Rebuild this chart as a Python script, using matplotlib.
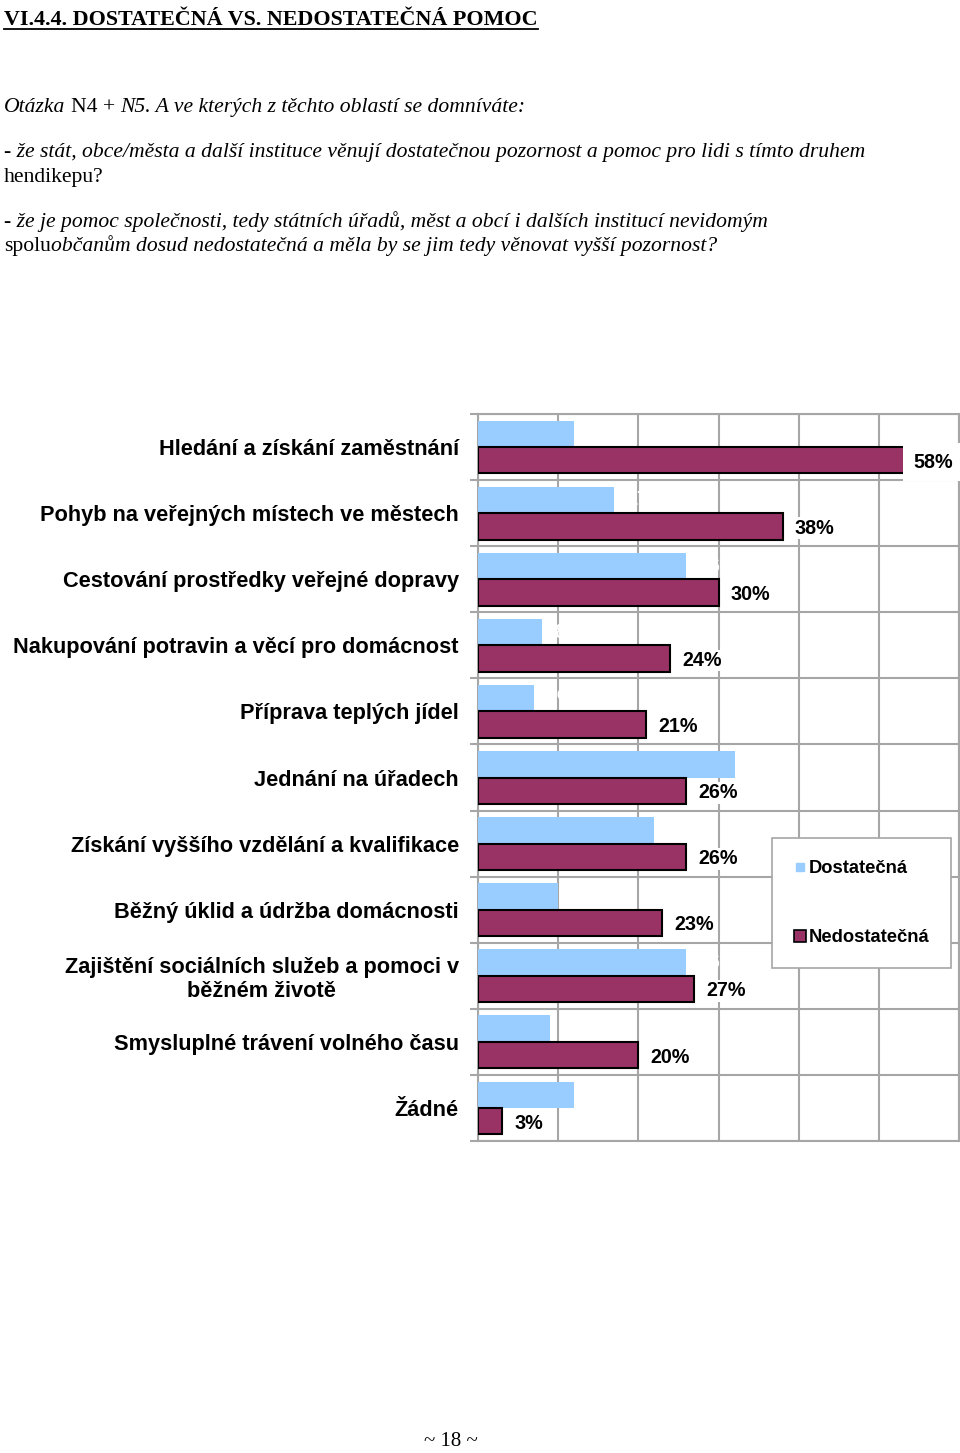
import matplotlib
matplotlib.use('Agg')
import matplotlib.pyplot as plt
from matplotlib.lines import Line2D
import numpy as np

# data
categories = [
    'Hledání a získání zaměstnání',
    'Pohyb na veřejných místech ve městech',
    'Cestování prostředky veřejné dopravy',
    'Nakupování potravin a věcí pro domácnost',
    'Příprava teplých jídel',
    'Jednání na úřadech',
    'Získání vyššího vzdělání a kvalifikace',
    'Běžný úklid a údržba domácnosti',
    'Zajištění sociálních služeb a pomoci v\nběžném životě',
    'Smysluplné trávení volného času',
    'Žádné',
]
dostatecna = [12, 17, 26, 8, 7, 32, 22, 10, 26, 9, 12]
nedostatecna = [58, 38, 30, 24, 21, 26, 26, 23, 27, 20, 3]
series_names = ['Dostatečná', 'Nedostatečná']

BLUE = '#99CCFF'
MAROON = '#993366'
GRID = '#A6A6A6'
W, H = 960, 1453

fig = plt.figure(figsize=(W / 100, H / 100), dpi=100)
fig.patch.set_facecolor('white')


def fx(px):
    return px / W


def fy(px):
    return 1 - px / H


# ---- text block at the top ----
renderer = fig.canvas.get_renderer()
serif = 'Liberation Serif'
BODY = 15.6


def text_width(t):
    return t.get_window_extent(renderer).width


def draw_runs(x_px, base_px, runs, size=BODY):
    # runs: list of (text, style, followed_by_space)
    probe = fig.text(0, 0, 'a a', family=serif, size=size)
    probe2 = fig.text(0, 0, 'aa', family=serif, size=size)
    space = text_width(probe) - text_width(probe2)
    probe.remove()
    probe2.remove()
    x = x_px
    for s, style, sep in runs:
        t = fig.text(fx(x), fy(base_px), s, family=serif, style=style,
                     size=size, va='baseline', ha='left')
        x += text_width(t) + (space if sep else 0)


title = fig.text(fx(4), fy(25), 'VI.4.4. DOSTATEČNÁ VS. NEDOSTATEČNÁ POMOC',
                 family=serif, weight='bold', size=15.8, va='baseline')
tw = text_width(title)
fig.add_artist(Line2D([fx(4), fx(4 + tw)], [fy(29), fy(29)], color='black', lw=1.3))

draw_runs(4, 112, [('Otázka', 'italic', True), ('N4 +', 'normal', True),
                   ('N5. A ve kterých z těchto oblastí se domníváte:', 'italic', False)])
draw_runs(4, 157, [('- že stát, obce/města a další instituce věnují dostatečnou pozornost '
                    'a pomoc pro lidi s tímto druhem', 'italic', False)])
draw_runs(4, 182, [('hendikepu?', 'normal', False)])
draw_runs(4, 227, [('- že je pomoc společnosti, tedy státních úřadů, měst a obcí i dalších '
                    'institucí nevidomým', 'italic', False)])
draw_runs(4, 251, [('spolu', 'normal', False),
                   ('občanům dosud nedostatečná a měla by se jim tedy věnovat vyšší pozornost?',
                    'italic', False)])

fig.text(fx(451), fy(1446), '~ 18 ~', family=serif, size=15, ha='center', va='baseline')

# ---- chart ----
ax = fig.add_axes([fx(478), 1 - 1141 / H, (959 - 478) / W, (1141 - 414) / H])
y = np.arange(len(categories))
h = 0.4
ax.barh(y - h / 2, dostatecna, height=h, color=BLUE, edgecolor='none', zorder=3)
ax.barh(y + h / 2, nedostatecna, height=h, color=MAROON, edgecolor='black',
        linewidth=1.5, zorder=3)

ax.set_xlim(0, 60)
ax.set_ylim(len(categories) - 0.5, -0.5)

val_font = dict(family='Liberation Sans', weight='bold', size=14.2)
for i, v in enumerate(dostatecna):
    ax.text(v + 1.5, i - h / 2, f'{v}%', color='white', va='center', ha='left',
            zorder=4, **val_font)
for i, v in enumerate(nedostatecna):
    if v + 6.5 > 60:
        ax.text(59.2, i + h / 2 + 0.03, f'{v}%', va='center', ha='right', zorder=5,
                bbox=dict(fc='white', ec='none', pad=7), **val_font)
    else:
        ax.text(v + 1.5, i + h / 2 + 0.03, f'{v}%', va='center', ha='left', zorder=5,
                bbox=dict(fc='white', ec='none', pad=1), **val_font)

ax.set_xticks(np.arange(0, 61, 10))
ax.tick_params(axis='x', length=0, labelbottom=False)
ax.set_yticks(y)
ax.set_yticklabels(categories, family='Liberation Sans', weight='bold', size=15.7)
for t in ax.get_yticklabels():
    t.set_multialignment('center')
ax.set_yticks(np.arange(-0.5, len(categories), 1), minor=True)
ax.tick_params(axis='y', which='major', length=0, pad=13.7)
ax.tick_params(axis='y', which='minor', length=6, color=GRID, width=1.5)
ax.grid(axis='x', which='major', color=GRID, lw=1.5, zorder=0)
ax.grid(axis='y', which='minor', color=GRID, lw=1.5, zorder=0)
ax.set_axisbelow(True)
for sp in ax.spines.values():
    sp.set_color(GRID)
    sp.set_linewidth(1.5)

handles = [Line2D([], [], marker='s', ls='none', markersize=6, color=BLUE,
                  markeredgecolor=BLUE),
           Line2D([], [], marker='s', ls='none', markersize=8, color=MAROON,
                  markeredgecolor='black', markeredgewidth=1.2)]
leg = ax.legend(handles, series_names, loc='upper left',
                bbox_to_anchor=(fx(772), fy(838)), bbox_transform=fig.transFigure,
                prop=dict(family='Liberation Sans', weight='bold', size=13.2),
                frameon=True, fancybox=False, framealpha=1, edgecolor=GRID,
                borderpad=1.2, labelspacing=2.85, handlelength=0.7, handletextpad=0.1,
                borderaxespad=0)
leg.get_frame().set_linewidth(1.2)
leg.set_zorder(10)

fig.savefig('out.png', dpi=100, facecolor='white')
